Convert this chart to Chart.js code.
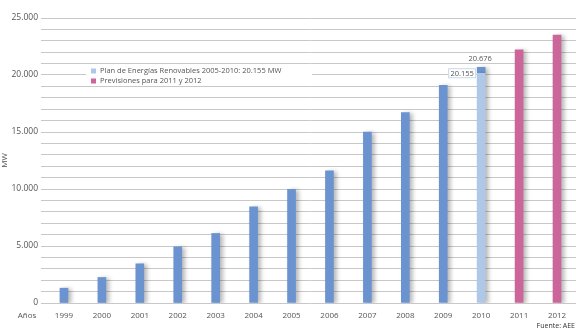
<!DOCTYPE html>
<html>
<head>
<meta charset="utf-8">
<script src="https://cdn.jsdelivr.net/npm/chart.js@4/dist/chart.umd.min.js"></script>
<style>
  html, body { margin: 0; padding: 0; background: #fff; }
  #wrap { width: 576px; height: 331px; }
</style>
</head>
<body>
<div id="wrap"><canvas id="chart" width="576" height="331"></canvas></div>
<script>
// datos (MW)
const years = ["1999", "2000", "2001", "2002", "2003", "2004", "2005", "2006", "2007", "2008", "2009", "2010", "2011", "2012"];
const installed = [1300, 2240, 3440, 4930, 6100, 8440, 9980, 11600, 15000, 16700, 19100, 20676, null, null];
const planTarget = 20155;
const forecast = [null, null, null, null, null, null, null, null, null, null, null, null, 22200, 23500];
const yTicks = [0, 5000, 10000, 15000, 20000, 25000];
const legendLabels = ["Plan de Energías Renovables 2005-2010: 20.155 MW", "Previsiones para 2011 y 2012"];

const BLUE = "#6a93cf", LIGHT = "#b0c8e8", PINK = "#cc6599";
const FONT = "'Open Sans', sans-serif";
const TXT = "#555";

// 2010: barra clara hasta el objetivo del plan, tramo azul por encima
const planData = years.map(y => y === "2010" ? planTarget : null);
const blueData = installed.map((v, i) => years[i] === "2010" ? v - planTarget : v);

function fmt(v) {
    return String(v).replace(/\B(?=(\d{3})+(?!\d))/g, ".");
}

// sombra de las barras
const shadowPlugin = {
    id: "shadow",
    beforeDatasetsDraw(chart) {
        const ctx = chart.ctx;
        ctx.save();
        ctx.shadowColor = "rgba(0,0,0,0.28)";
        ctx.shadowBlur = 4;
        ctx.shadowOffsetX = 3;
        ctx.shadowOffsetY = 1;
    },
    afterDatasetsDraw(chart) {
        chart.ctx.restore();
    }
};

// leyenda, etiquetas y fuente
const extrasPlugin = {
    id: "extras",
    afterDraw(chart) {
        const ctx = chart.ctx;
        const x = chart.scales.x, y = chart.scales.y;
        ctx.save();

        // leyenda con fondo blanco
        ctx.fillStyle = "#fff";
        ctx.fillRect(86, 66, 226, 20);
        ctx.font = "7.5px " + FONT;
        ctx.textBaseline = "middle";
        ctx.textAlign = "left";
        [LIGHT, PINK].forEach((c, i) => {
            const cy = 71 + i * 10;
            ctx.fillStyle = c;
            ctx.fillRect(91, cy - 2.5, 5, 5);
            ctx.fillStyle = TXT;
            ctx.fillText(legendLabels[i], 100, cy);
        });

        // valores de 2010
        const i2010 = years.indexOf("2010");
        const bx = x.getPixelForValue(i2010);
        ctx.font = "7.5px " + FONT;
        ctx.textAlign = "center";
        ctx.fillStyle = TXT;
        ctx.fillText(fmt(installed[i2010]), bx - 1, y.getPixelForValue(installed[i2010]) - 8);

        const py = y.getPixelForValue(planTarget);
        ctx.fillStyle = "#fff";
        ctx.fillRect(bx - 33, py - 5, 28, 10);
        ctx.strokeStyle = "#c9d6e8";
        ctx.lineWidth = 1;
        ctx.strokeRect(bx - 32.5, py - 4.5, 27, 9);
        ctx.fillStyle = TXT;
        ctx.fillText(fmt(planTarget), bx - 19, py + 0.5);

        // "Años" y fuente
        ctx.font = "8px " + FONT;
        ctx.textAlign = "center";
        ctx.fillText("Años", 27, 316);
        ctx.font = "7px " + FONT;
        ctx.textAlign = "right";
        ctx.fillStyle = "#333";
        ctx.fillText("Fuente: AEE", 575, 326);
        ctx.restore();
    }
};

new Chart(document.getElementById("chart"), {
    type: "bar",
    data: {
        labels: years,
        datasets: [
            { label: legendLabels[0], data: planData, backgroundColor: LIGHT, barThickness: 8 },
            { label: "Potencia instalada", data: blueData, backgroundColor: BLUE, barThickness: 8 },
            { label: legendLabels[1], data: forecast, backgroundColor: PINK, barThickness: 8 }
        ]
    },
    options: {
        responsive: false,
        animation: false,
        layout: { padding: { left: 0, right: 0, top: 18, bottom: 0 } },
        plugins: { legend: { display: false }, tooltip: { enabled: false } },
        scales: {
            x: {
                stacked: true,
                grid: { display: false },
                border: { display: false },
                ticks: { color: TXT, font: { family: FONT, size: 8 }, padding: 0, maxRotation: 0, autoSkip: false },
                afterFit(s) { s.height = 28; }
            },
            y: {
                stacked: true,
                min: 0,
                max: 25000,
                border: { display: false },
                grid: { color: "#c8c8c8", lineWidth: 1, tickLength: 4 },
                title: { display: true, text: "MW", color: TXT, font: { family: FONT, size: 8 }, padding: 0 },
                ticks: {
                    stepSize: 1000,
                    autoSkip: false,
                    color: TXT,
                    padding: 3,
                    font: { family: FONT, size: 8.5 },
                    callback: v => yTicks.includes(v) ? fmt(v) : ""
                },
                afterFit(s) { s.width = 45; }
            }
        }
    },
    plugins: [shadowPlugin, extrasPlugin]
});
</script>
</body>
</html>
